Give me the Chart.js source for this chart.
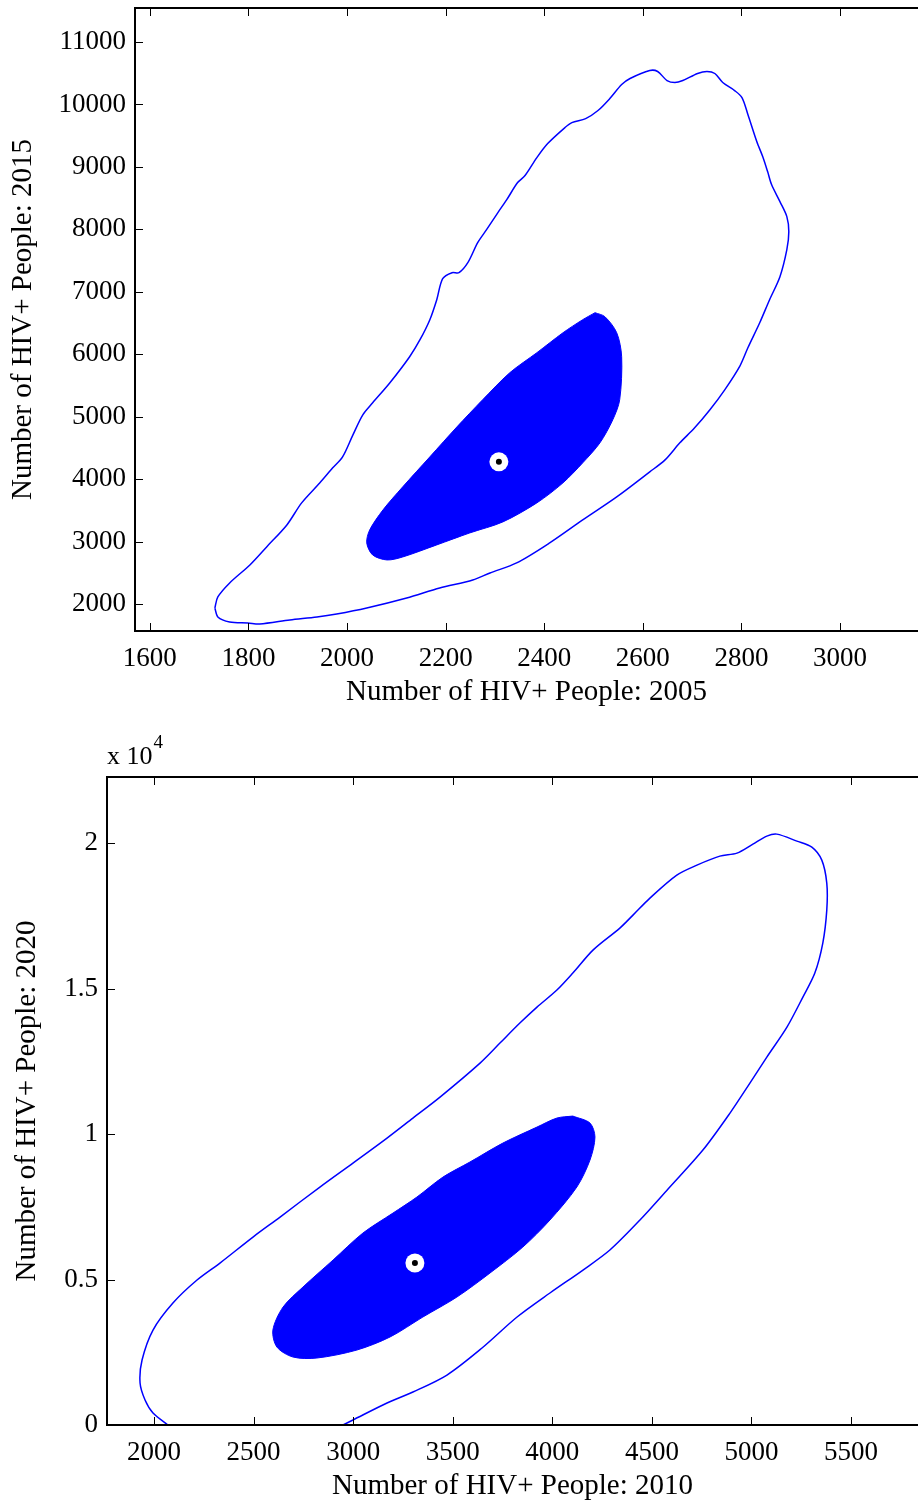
<!DOCTYPE html>
<html><head><meta charset="utf-8">
<script src="https://cdn.jsdelivr.net/npm/chart.js@4.4.1/dist/chart.umd.min.js"></script>
<style>
html,body{margin:0;padding:0;background:#fff;overflow:hidden;width:918px;height:1505px;}
#w1{position:absolute;left:0;top:0;width:918px;height:720px;}
#w2{position:absolute;left:0;top:715px;width:918px;height:790px;}
canvas{display:block;}
</style></head><body>
<div id="w1"><canvas id="c1"></canvas></div>
<div id="w2"><canvas id="c2"></canvas></div>
<script>
// ---------- Top panel: 2005 vs 2015 ----------
const xTicks2005 = [1600,1800,2000,2200,2400,2600,2800,3000];
const yTicks2015 = [2000,3000,4000,5000,6000,7000,8000,9000,10000,11000];
const outerX2005 = [1732,1738,1762,1803,1837,1878,1908,1945,1971,1991,2012,2032,2052,2087,2127,2148,2168,2182,2194,2213,2227,2245,2265,2283,2306,2324,2346,2361,2385,2407,2442,2456,2484,2509,2533,2557,2574,2614,2630,2649,2665,2681,2711,2730,2746,2762,2786,2801,2813,2831,2843,2853,2861,2878,2892,2896,2892,2878,2857,2837,2813,2797,2766,2736,2705,2675,2645,2614,2547,2478,2411,2344,2290,2255,2188,2121,2040,1979,1939,1884,1823,1799,1762,1738,1732];
const outerY2015 = [1936,2112,2337,2625,2914,3266,3619,3940,4180,4356,4709,5030,5222,5543,5960,6232,6553,6873,7210,7306,7306,7466,7787,7995,8268,8476,8749,8861,9149,9374,9630,9710,9774,9903,10095,10319,10416,10544,10528,10383,10351,10383,10496,10528,10496,10351,10223,10111,9839,9406,9166,8925,8717,8444,8204,7963,7675,7242,6873,6504,6104,5815,5430,5110,4821,4581,4308,4116,3715,3346,2978,2657,2497,2385,2256,2096,1936,1840,1792,1744,1679,1695,1711,1792,1936];
const innerX2005 = [2503,2523,2547,2557,2553,2539,2513,2478,2438,2385,2316,2249,2182,2113,2081,2052,2040,2046,2073,2113,2168,2223,2275,2330,2385,2438,2478,2503];
const innerY2015 = [6665,6601,6344,5959,5270,4950,4581,4260,3940,3619,3314,3138,2946,2753,2705,2785,2978,3186,3507,3876,4356,4837,5270,5703,6024,6344,6553,6665];
const center2005 = [2308];
const center2015 = [4276];

// ---------- Bottom panel: 2010 vs 2020 ----------
const xTicks2010 = [2000,2500,3000,3500,4000,4500,5000,5500];
const yTicks2020 = [0,5000,10000,15000,20000];
const outerX2010 = [2070,1995,1955,1930,1940,1995,2095,2216,2331,2497,2633,2833,2999,3170,3300,3436,3637,3737,3837,3923,4023,4103,4204,4339,4405,4490,4625,4726,4841,4927,5007,5077,5127,5228,5303,5353,5378,5378,5358,5318,5258,5178,5077,4992,4892,4756,4590,4440,4289,4154,3988,3823,3647,3471,3300,3170,2999,2949];
const outerY2020 = [0,412,859,1443,2233,3264,4192,4982,5566,6460,7147,8178,9002,9861,10549,11270,12438,13126,13813,14362,14947,15531,16321,17077,17524,18108,18898,19242,19551,19654,19963,20238,20307,20066,19860,19413,18623,17695,16562,15531,14706,13675,12644,11751,10720,9449,8178,7044,6013,5326,4536,3711,2646,1718,1134,756,172,0];
const innerX2010 = [4103,4189,4214,4189,4123,3988,3852,3687,3521,3350,3185,3019,2818,2698,2617,2597,2648,2748,2899,3049,3200,3320,3451,3586,3752,3923,4023,4103];
const innerY2020 = [10617,10377,9896,9105,8178,7044,6116,5223,4398,3711,3024,2577,2302,2336,2680,3264,4054,4742,5669,6597,7284,7834,8521,9037,9690,10239,10549,10617];
const center2010 = [3310];
const center2020 = [5566];

const zip = (xs, ys) => xs.map((x, i) => ({x: x, y: ys[i]}));
const BLUE = '#0000ff';
const FONT = '"Liberation Serif", "Times New Roman", serif';

const boxPlugin = {
  id: 'mbox',
  afterDraw(chart, args, opts) {
    const {ctx, chartArea: a} = chart;
    const xs = chart.scales.x, ys = chart.scales.y;
    ctx.save();
    ctx.strokeStyle = '#000';
    ctx.lineWidth = 1;
    ctx.beginPath();
    xs.ticks.forEach(t => {
      const p = Math.round(xs.getPixelForValue(t.value)) + 0.5;
      ctx.moveTo(p, a.bottom); ctx.lineTo(p, a.bottom - 8);
      ctx.moveTo(p, a.top); ctx.lineTo(p, a.top + 8);
    });
    ys.ticks.forEach(t => {
      const p = Math.round(ys.getPixelForValue(t.value)) + 0.5;
      ctx.moveTo(a.left, p); ctx.lineTo(a.left + 8, p);
    });
    ctx.stroke();
    ctx.lineWidth = 2;
    ctx.beginPath();
    ctx.moveTo(a.right + 2, a.top); ctx.lineTo(a.left, a.top);
    ctx.lineTo(a.left, a.bottom); ctx.lineTo(a.right + 2, a.bottom);
    ctx.stroke();
    if (opts && opts.exponent) {
      ctx.fillStyle = '#000';
      ctx.textBaseline = 'alphabetic';
      ctx.textAlign = 'left';
      ctx.font = '26px ' + FONT;
      const base = 'x 10';
      ctx.fillText(base, a.left, a.top - 13);
      const w = ctx.measureText(base).width;
      ctx.font = '19px ' + FONT;
      ctx.fillText(opts.exponent, a.left + w + 1, a.top - 29);
    }
    ctx.restore();
  }
};

function makeChart(id, cfg) {
  return new Chart(document.getElementById(id), {
    type: 'scatter',
    data: {
      datasets: [
        {data: zip(cfg.cx, cfg.cy), pointRadius: 3, pointBackgroundColor: '#000', pointBorderWidth: 0, showLine: false, order: 0},
        {data: zip(cfg.cx, cfg.cy), pointRadius: 9.5, pointBackgroundColor: '#fff', pointBorderWidth: 0, showLine: false, order: 1},
        {data: zip(cfg.ix, cfg.iy), showLine: true, fill: 'shape', backgroundColor: BLUE, borderColor: BLUE, borderWidth: 1, pointRadius: 0, tension: 0.3, order: 2},
        {data: zip(cfg.ox, cfg.oy), showLine: true, fill: false, borderColor: BLUE, borderWidth: 1.5, pointRadius: 0, tension: 0.3, order: 3}
      ]
    },
    options: {
      responsive: true,
      maintainAspectRatio: false,
      animation: false,
      events: [],
      layout: {autoPadding: false, padding: {top: cfg.padTop, left: 0, right: 0, bottom: 0}},
      plugins: {legend: {display: false}, tooltip: {enabled: false}, mbox: {exponent: cfg.exponent}},
      scales: {
        x: {
          type: 'linear', min: cfg.xmin, max: cfg.xmax,
          grid: {display: false, drawTicks: false}, border: {display: false},
          afterBuildTicks: s => { s.ticks = cfg.xt.map(v => ({value: v})); },
          afterFit: s => { s.height = cfg.xh; s.paddingLeft = 0; s.paddingRight = 0; },
          ticks: {color: '#000', font: {family: FONT, size: 27}, padding: 12, maxRotation: 0, autoSkip: false, callback: v => String(v)},
          title: {display: true, text: cfg.xtitle, color: '#000', font: {family: FONT, size: 29}, padding: {top: 0, bottom: cfg.xtpad}}
        },
        y: {
          type: 'linear', min: cfg.ymin, max: cfg.ymax,
          grid: {display: false, drawTicks: false}, border: {display: false},
          afterBuildTicks: s => { s.ticks = cfg.yt.map(v => ({value: v})); },
          afterFit: s => { s.width = cfg.yw; s.paddingTop = 0; s.paddingBottom = 0; },
          ticks: {color: '#000', font: {family: FONT, size: 27}, padding: 9, autoSkip: false, callback: cfg.yfmt},
          title: {display: true, text: cfg.ytitle, color: '#000', font: {family: FONT, size: 29}, padding: {top: cfg.ytpad, bottom: 0}}
        }
      }
    },
    plugins: [boxPlugin]
  });
}

makeChart('c1', {
  ox: outerX2005, oy: outerY2015, ix: innerX2005, iy: innerY2015, cx: center2005, cy: center2015,
  xmin: 1570, xmax: 3158, ymin: 1567, ymax: 11545, xt: xTicks2005, yt: yTicks2015,
  xtitle: 'Number of HIV+ People: 2005', ytitle: 'Number of HIV+ People: 2015',
  padTop: 8, xh: 89, yw: 135, xtpad: 10, ytpad: 6, yfmt: v => String(v), exponent: null
});

makeChart('c2', {
  ox: outerX2010, oy: outerY2020, ix: innerX2010, iy: innerY2020, cx: center2010, cy: center2020,
  xmin: 1764, xmax: 5836, ymin: 0, ymax: 22270, xt: xTicks2010, yt: yTicks2020,
  xtitle: 'Number of HIV+ People: 2010', ytitle: 'Number of HIV+ People: 2020',
  padTop: 62, xh: 80, yw: 107, xtpad: 1, ytpad: 10, yfmt: v => String(v / 10000), exponent: '4'
});
</script>
</body></html>
